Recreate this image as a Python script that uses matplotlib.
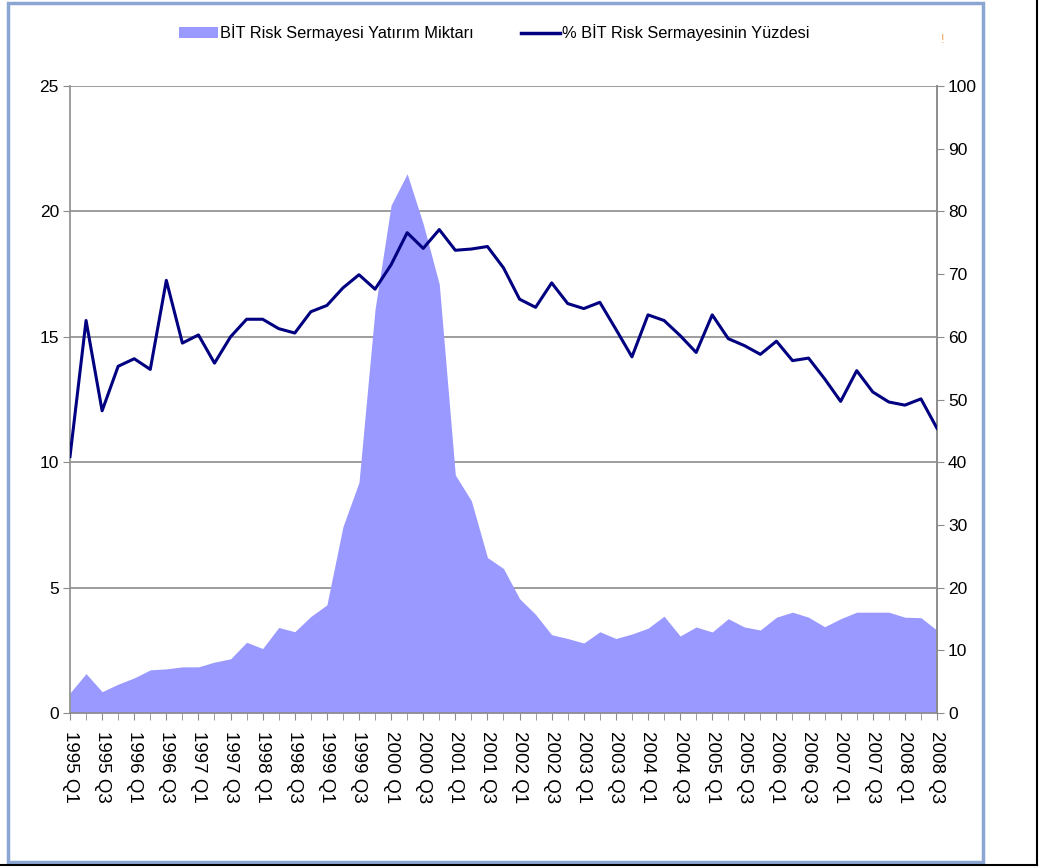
import matplotlib.pyplot as plt
from matplotlib.patches import Rectangle, Patch
from matplotlib.lines import Line2D
import numpy as np

plt.rcParams['font.family'] = ['Liberation Sans', 'DejaVu Sans']

# quarters 1995 Q1 .. 2008 Q3
quarters = [f'{y} Q{q}' for y in range(1995, 2009) for q in range(1, 5)][:55]

# BIT venture capital investment (left axis)
amount = [0.8, 1.57, 0.85, 1.15, 1.40, 1.72, 1.76, 1.84, 1.84, 2.03,
          2.16, 2.82, 2.57, 3.41, 3.24, 3.85, 4.31, 7.43, 9.2, 16.1,
          20.25, 21.5, 19.5, 17.1, 9.49, 8.46, 6.2, 5.76, 4.56, 3.93,
          3.12, 2.97, 2.79, 3.24, 2.97, 3.15, 3.38, 3.86, 3.07, 3.43,
          3.23, 3.76, 3.43, 3.31, 3.82, 4.02, 3.82, 3.44, 3.76, 4.02,
          4.02, 4.02, 3.82, 3.80, 3.30]

# share of BIT in total venture capital, % (right axis)
share = [40.9, 62.6, 48.2, 55.3, 56.5, 54.8, 69.0, 59.0, 60.3, 55.8,
         60.0, 62.8, 62.8, 61.3, 60.6, 64.0, 65.0, 67.8, 69.9, 67.6,
         71.5, 76.6, 74.1, 77.1, 73.8, 74.0, 74.4, 71.0, 66.0, 64.7,
         68.6, 65.3, 64.5, 65.5, 61.2, 56.8, 63.5, 62.6, 60.2, 57.5,
         63.5, 59.7, 58.6, 57.2, 59.3, 56.2, 56.6, 53.3, 49.7, 54.6,
         51.2, 49.6, 49.1, 50.1, 45.4]

fill_c = '#9999FF'
line_c = '#000080'
grid_c = '#8C8C8C'
fs = 12.5

fig = plt.figure(figsize=(10.4, 8.67), dpi=100)
ax = fig.add_axes([70/1040, 1-713/867, 867/1040, 627/867])
x = np.arange(len(quarters))

ax.fill_between(x, 0, amount, color=fill_c, linewidth=0, zorder=2)
ax.set_xlim(0, len(quarters)-1)
ax.set_ylim(0, 25)
ax.set_yticks(range(0, 26, 5))
ax.yaxis.grid(True, color=grid_c, linewidth=1.2, zorder=1)
ax.set_axisbelow(True)
ax.set_xticks(x, minor=True)
ax.set_xticks(x[::2])
ax.set_xticklabels(quarters[::2], rotation=270, fontsize=13.5)
ax.tick_params(axis='x', which='both', length=5, color=grid_c, pad=8)
ax.tick_params(axis='y', length=5, color=grid_c, labelsize=fs, pad=3)
ax.spines['top'].set_visible(False)
for s in ['left', 'bottom', 'right']:
    ax.spines[s].set_color(grid_c)
    ax.spines[s].set_linewidth(1.2)

ax2 = ax.twinx()
ax2.plot(x, share, color=line_c, linewidth=2.2, zorder=3)
ax2.set_ylim(0, 100)
ax2.set_yticks(range(0, 101, 10))
ax2.tick_params(axis='y', length=5, color=grid_c, labelsize=fs, pad=3)
ax2.spines['top'].set_visible(False)
ax2.spines['right'].set_color(grid_c)
ax2.spines['right'].set_linewidth(1.2)
ax2.spines['left'].set_visible(False)
ax2.spines['bottom'].set_visible(False)

handles = [Patch(facecolor=fill_c, edgecolor='none'),
           Line2D([], [], color=line_c, linewidth=2.5)]
labels = ['BİT Risk Sermayesi Yatırım Miktarı', '% BİT Risk Sermayesinin Yüzdesi']
fig.legend(handles, labels, loc='center', bbox_to_anchor=(0.475, 0.962),
           ncol=2, frameon=False, fontsize=11.8, handlelength=2.4,
           handletextpad=0.1, columnspacing=2.9)

# stray mark seen at the top right of the original
fig.text(943/1040, 1-40/867, '!', color='#E8A050', fontsize=9,
         ha='center', va='center')

# outer frame of the chart object
fig.patches.append(Rectangle((8/1040, 1-862/867), 975/1040, 859/867,
                             transform=fig.transFigure, fill=False,
                             edgecolor='#8CA6D4', linewidth=2.5))
fig.add_artist(Line2D([1037/1040, 1037/1040], [1-865/867, 1], color='black',
                      linewidth=1.5, transform=fig.transFigure))
fig.add_artist(Line2D([0, 1037/1040], [1-865/867, 1-865/867], color='black',
                      linewidth=1.5, transform=fig.transFigure))

fig.savefig('out.png', dpi=100)
